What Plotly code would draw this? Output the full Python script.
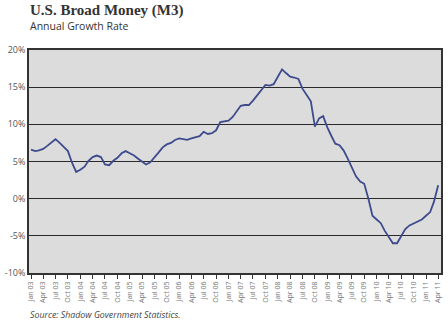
import plotly.graph_objects as go
import pandas as pd

# Monthly annual growth rate of U.S. M3 (%), Jan 2003 - Apr 2011
months = pd.date_range("2003-01-01", "2011-04-01", freq="MS")
growth = [
    6.6, 6.4, 6.5, 6.7, 7.1, 7.6, 8.0, 7.5, 6.9, 6.4, 4.8, 3.6,
    3.9, 4.3, 5.1, 5.6, 5.8, 5.6, 4.6, 4.5, 5.1, 5.5, 6.1, 6.4,
    6.1, 5.8, 5.4, 5.0, 4.6, 4.9, 5.5, 6.2, 6.9, 7.3, 7.5, 7.9,
    8.1, 8.0, 7.9, 8.1, 8.3, 8.4, 9.0, 8.7, 8.8, 9.2, 10.3, 10.4,
    10.5, 11.0, 11.7, 12.5, 12.6, 12.6, 13.2, 13.9, 14.7, 15.3, 15.2, 15.4,
    16.4, 17.4, 16.9, 16.4, 16.3, 16.1, 14.8, 14.0, 13.1, 9.7, 10.8, 11.1,
    9.6, 8.4, 7.4, 7.2, 6.5, 5.4, 4.3, 3.0, 2.3, 2.0, 0.0, -2.3,
    -2.8, -3.3, -4.3, -5.2, -6.0, -6.0, -5.1, -4.1, -3.6, -3.3, -3.0, -2.8,
    -2.3, -1.8, -0.4, 1.8,
]
y_ticks = [-10, -5, 0, 5, 10, 15, 20]
y_tick_labels = [f"{v}%" for v in y_ticks]

title = "U.S. Broad Money (M3)"
subtitle = "Annual Growth Rate"
source = "Source: Shadow Government Statistics."

fig = go.Figure()
fig.add_trace(go.Scatter(
    x=months, y=growth, mode="lines",
    line=dict(color="#3d4b8d", width=1.8),
    hoverinfo="x+y",
))

fig.update_layout(
    width=448, height=324,
    margin=dict(l=27, r=5, t=50, b=51),
    paper_bgcolor="white",
    plot_bgcolor="#dcdcdc",
    showlegend=False,
    font=dict(family="Open Sans, Liberation Sans, sans-serif", color="#555"),
)
fig.update_xaxes(
    type="date",
    range=["2002-12-17", "2011-04-22"],
    tickformat="%b %y",
    dtick="M3",
    tick0="2003-01-01",
    tickangle=-90,
    tickfont=dict(size=7, color="#777"),
    ticks="outside", ticklen=4, tickcolor="#333", tickwidth=1,
    showgrid=False,
    showline=True, linecolor="#333", linewidth=1.5, mirror=True,
    zeroline=False,
)
fig.update_yaxes(
    range=[-10, 20],
    tickvals=y_ticks, ticktext=y_tick_labels,
    tickfont=dict(size=9, color="#555"),
    showgrid=True, gridcolor="#2a2a2a", gridwidth=1.3,
    showline=True, linecolor="#333", linewidth=1.5, mirror=True,
    zeroline=False,
    ticks="",
)

fig.add_annotation(
    text=f"<b>{title}</b>", xref="paper", yref="paper", x=-0.003, y=1.178,
    xanchor="left", yanchor="middle", showarrow=False,
    font=dict(family="Liberation Serif, DejaVu Serif, serif", size=15, color="#333"),
)
fig.add_annotation(
    text=subtitle, xref="paper", yref="paper", x=-0.003, y=1.108,
    xanchor="left", yanchor="middle", showarrow=False,
    font=dict(family="Open Sans, sans-serif", size=10.5, color="#333"),
)
fig.add_annotation(
    text=f"<i>{source}</i>", xref="paper", yref="paper", x=-0.003, y=-0.188,
    xanchor="left", yanchor="middle", showarrow=False,
    font=dict(family="Open Sans, sans-serif", size=8.8, color="#444"),
)

fig.write_html("out.html")
